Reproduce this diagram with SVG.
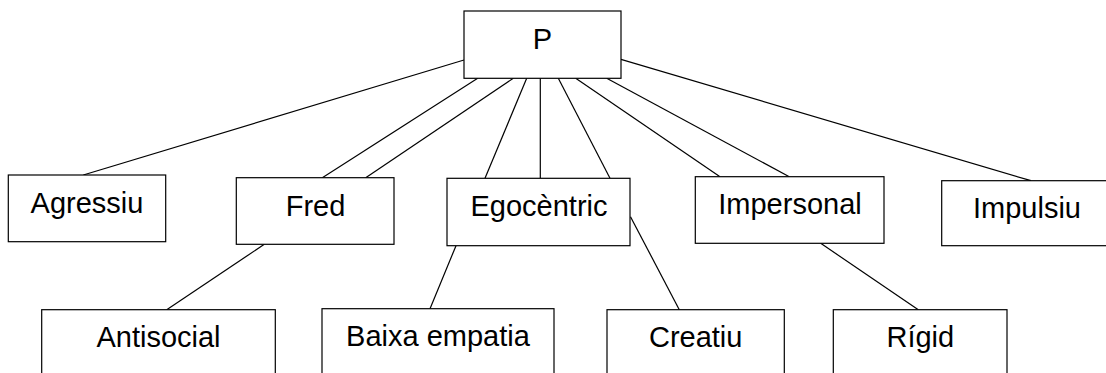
<svg xmlns="http://www.w3.org/2000/svg" width="1106" height="373" viewBox="0 0 1106 373">
<style>
  .box { fill: #ffffff; stroke: #000000; stroke-width: 1.2; }
  .lbl { font-family: "Liberation Sans", Arial, sans-serif; font-size: 29px; fill: #000000; text-anchor: middle; }
  .con line { stroke: #000000; stroke-width: 1.2; }
</style>
<rect width="1106" height="373" fill="#ffffff"/>
<g id="connectors" class="con">
  <line x1="464" y1="60" x2="83.3" y2="175"/>
  <line x1="477.7" y1="78.3" x2="322.3" y2="177.7"/>
  <line x1="513.3" y1="78.3" x2="365.7" y2="177.7"/>
  <line x1="526.7" y1="78.3" x2="485" y2="178.3"/>
  <line x1="540.3" y1="78.3" x2="540.3" y2="178.3"/>
  <line x1="558.3" y1="78.3" x2="610" y2="178.3"/>
  <line x1="575.7" y1="78.3" x2="720" y2="176.7"/>
  <line x1="606.7" y1="78.3" x2="789.3" y2="176.7"/>
  <line x1="621" y1="59.3" x2="1031" y2="180.7"/>
  <line x1="264.3" y1="244.3" x2="166.7" y2="309.7"/>
  <line x1="456" y1="245.7" x2="430" y2="308.7"/>
  <line x1="630.5" y1="216.7" x2="679.3" y2="309.7"/>
  <line x1="820.7" y1="243.3" x2="918.3" y2="309.7"/>
</g>
<g id="node-P">
  <rect class="box" x="464" y="11" width="157" height="67.3"/>
  <text class="lbl" x="542.5" y="49">P</text>
</g>
<g id="node-agressiu">
  <rect class="box" x="8.3" y="175" width="157.4" height="66.7"/>
  <text class="lbl" x="87" y="213.3">Agressiu</text>
</g>
<g id="node-fred">
  <rect class="box" x="236.3" y="177.7" width="157.7" height="66.6"/>
  <text class="lbl" x="315.5" y="215.7">Fred</text>
</g>
<g id="node-egocentric">
  <rect class="box" x="447" y="178.3" width="183" height="67.4"/>
  <text class="lbl" x="539" y="215.5">Egocèntric</text>
</g>
<g id="node-impersonal">
  <rect class="box" x="695.3" y="176.7" width="188.7" height="66.6"/>
  <text class="lbl" x="790" y="214.3">Impersonal</text>
</g>
<g id="node-impulsiu">
  <rect class="box" x="941.7" y="180.7" width="171" height="65"/>
  <text class="lbl" x="1027" y="217.7">Impulsiu</text>
</g>
<g id="node-antisocial">
  <rect class="box" x="41.7" y="309.7" width="233.6" height="67"/>
  <text class="lbl" x="158.5" y="346.7">Antisocial</text>
</g>
<g id="node-baixa-empatia">
  <rect class="box" x="322" y="308.7" width="232" height="67"/>
  <text class="lbl" x="438" y="345.7">Baixa empatia</text>
</g>
<g id="node-creatiu">
  <rect class="box" x="607" y="309.7" width="177.3" height="67"/>
  <text class="lbl" x="695.7" y="346.7">Creatiu</text>
</g>
<g id="node-rigid">
  <rect class="box" x="833.3" y="309.7" width="173.7" height="67"/>
  <text class="lbl" x="920.3" y="346.7">Rígid</text>
</g>
</svg>
